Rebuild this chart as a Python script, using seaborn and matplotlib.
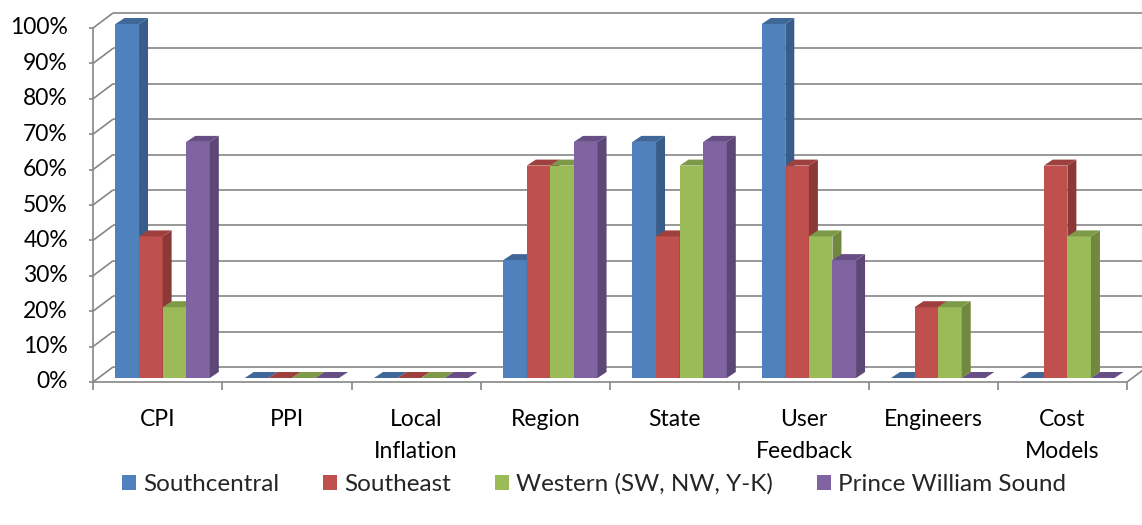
import matplotlib
matplotlib.use("Agg")
import matplotlib.pyplot as plt
from matplotlib.patches import Polygon, Patch
from matplotlib.transforms import ScaledTranslation
import pandas as pd
import seaborn as sns

# ---- data ----
categories = ["CPI", "PPI", "Local\nInflation", "Region", "State",
              "User\nFeedback", "Engineers", "Cost\nModels"]
regions = ["Southcentral", "Southeast", "Western (SW, NW, Y-K)", "Prince William Sound"]
southcentral = [1.00, 0.00, 0.00, 0.333, 0.667, 1.00, 0.00, 0.00]
southeast = [0.40, 0.00, 0.00, 0.60, 0.40, 0.60, 0.20, 0.60]
western = [0.20, 0.00, 0.00, 0.60, 0.60, 0.40, 0.20, 0.40]
prince_william = [0.667, 0.00, 0.00, 0.667, 0.667, 0.333, 0.00, 0.00]
y_ticks = [0.0, 0.1, 0.2, 0.3, 0.4, 0.5, 0.6, 0.7, 0.8, 0.9, 1.0]
y_tick_labels = ["0%", "10%", "20%", "30%", "40%", "50%", "60%", "70%", "80%", "90%", "100%"]

front_colors = ["#4F81BD", "#C0504D", "#9BBB59", "#8064A2"]
side_colors = ["#385D8A", "#8C3836", "#71893F", "#5C4776"]
top_colors = ["#3F6898", "#9E413E", "#7D9A48", "#674F85"]

series = [southcentral, southeast, western, prince_william]
df = pd.DataFrame({
    "category": [c for _ in regions for c in categories],
    "region": [r for r in regions for _ in categories],
    "share": [v for s in series for v in s],
})

sns.set_style("white")
plt.rcParams["font.family"] = ["Lato", "DejaVu Sans"]

W, H, DPI = 1142, 525, 100
fig = plt.figure(figsize=(W / DPI, H / DPI), dpi=DPI)
ax_left, ax_right, ax_top, ax_bottom = 98, 1132, 24, 378
ax = fig.add_axes([ax_left / W, 1 - ax_bottom / H,
                   (ax_right - ax_left) / W, (ax_bottom - ax_top) / H])

sns.barplot(data=df, x="category", y="share", hue="region", order=categories,
            hue_order=regions, palette=front_colors, saturation=1, width=0.73,
            linewidth=0, legend=False, ax=ax)
ax.set_xlim(-0.5, len(categories) - 0.5)
ax.set_ylim(0, 1)
ax.axis("off")

# pixel -> data scales for depth offsets
px_x = len(categories) / (ax_right - ax_left)
px_y = 1.0 / (ax_bottom - ax_top)
DEPTH_X, DEPTH_Y = 9, 6  # bar depth in pixels


def shifted(dx, dy):
    return ax.transData + ScaledTranslation(dx / DPI, dy / DPI, fig.dpi_scale_trans)


grid_col = "#868686"
lw = 1.2
back = (15, 11)
front = (-5, -4)
wall_dx, wall_dy = back[0] - front[0], back[1] - front[1]
x0, x1 = -0.5, len(categories) - 0.5


def line(xs, ys, off):
    ax.plot(xs, ys, color=grid_col, lw=lw, transform=shifted(*off),
            clip_on=False, zorder=0, solid_capstyle="butt")


# back wall gridlines and left wall
for t in y_ticks:
    line([x0, x1], [t, t], back)
    line([x0, x0 + wall_dx * px_x], [t, t + wall_dy * px_y], front)
    line([x0 - 4 * px_x, x0], [t, t], front)
line([x0, x0], [0, 1], front)

# floor edges and category tick marks
line([x0, x1], [0, 0], front)
line([x1, x1 + wall_dx * px_x], [0, wall_dy * px_y], front)
for k in range(len(categories) + 1):
    line([k - 0.5, k - 0.5], [0, -8 * px_y], front)

# 3D faces on each bar
for i, cont in enumerate(ax.containers):
    for bar in cont.patches:
        bx, bw, bh = bar.get_x(), bar.get_width(), bar.get_height()
        dx, dy = DEPTH_X * px_x, DEPTH_Y * px_y
        bar.set_zorder(3 + 2 * i)
        bar.set_clip_on(False)
        side = Polygon([(bx + bw, 0), (bx + bw + dx, dy), (bx + bw + dx, bh + dy), (bx + bw, bh)],
                       closed=True, facecolor=side_colors[i], edgecolor="none",
                       zorder=3 + 2 * i, clip_on=False)
        top = Polygon([(bx, bh), (bx + bw, bh), (bx + bw + dx, bh + dy), (bx + dx, bh + dy)],
                      closed=True, facecolor=top_colors[i], edgecolor="none",
                      zorder=3 + 2 * i, clip_on=False)
        ax.add_patch(side)
        ax.add_patch(top)

# axis labels
FS = 16.5
for t, lab in zip(y_ticks, y_tick_labels):
    ax.text(x0, t, lab, ha="right", va="center", fontsize=FS, color="black",
            transform=shifted(-30, -4), clip_on=False)
for i, lab in enumerate(categories):
    ax.text(i, 0, lab, ha="center", va="top", fontsize=FS, color="black",
            linespacing=1.62, transform=shifted(-5, -31), clip_on=False)

handles = [Patch(facecolor=c, edgecolor="none") for c in front_colors]
fig.legend(handles, regions, loc="center", bbox_to_anchor=(594 / W, 1 - 484 / H),
           ncol=4, frameon=False, fontsize=17.5, handlelength=0.58, handleheight=0.58,
           handletextpad=0.3, columnspacing=1.8)

fig.savefig("out.png", dpi=DPI)
